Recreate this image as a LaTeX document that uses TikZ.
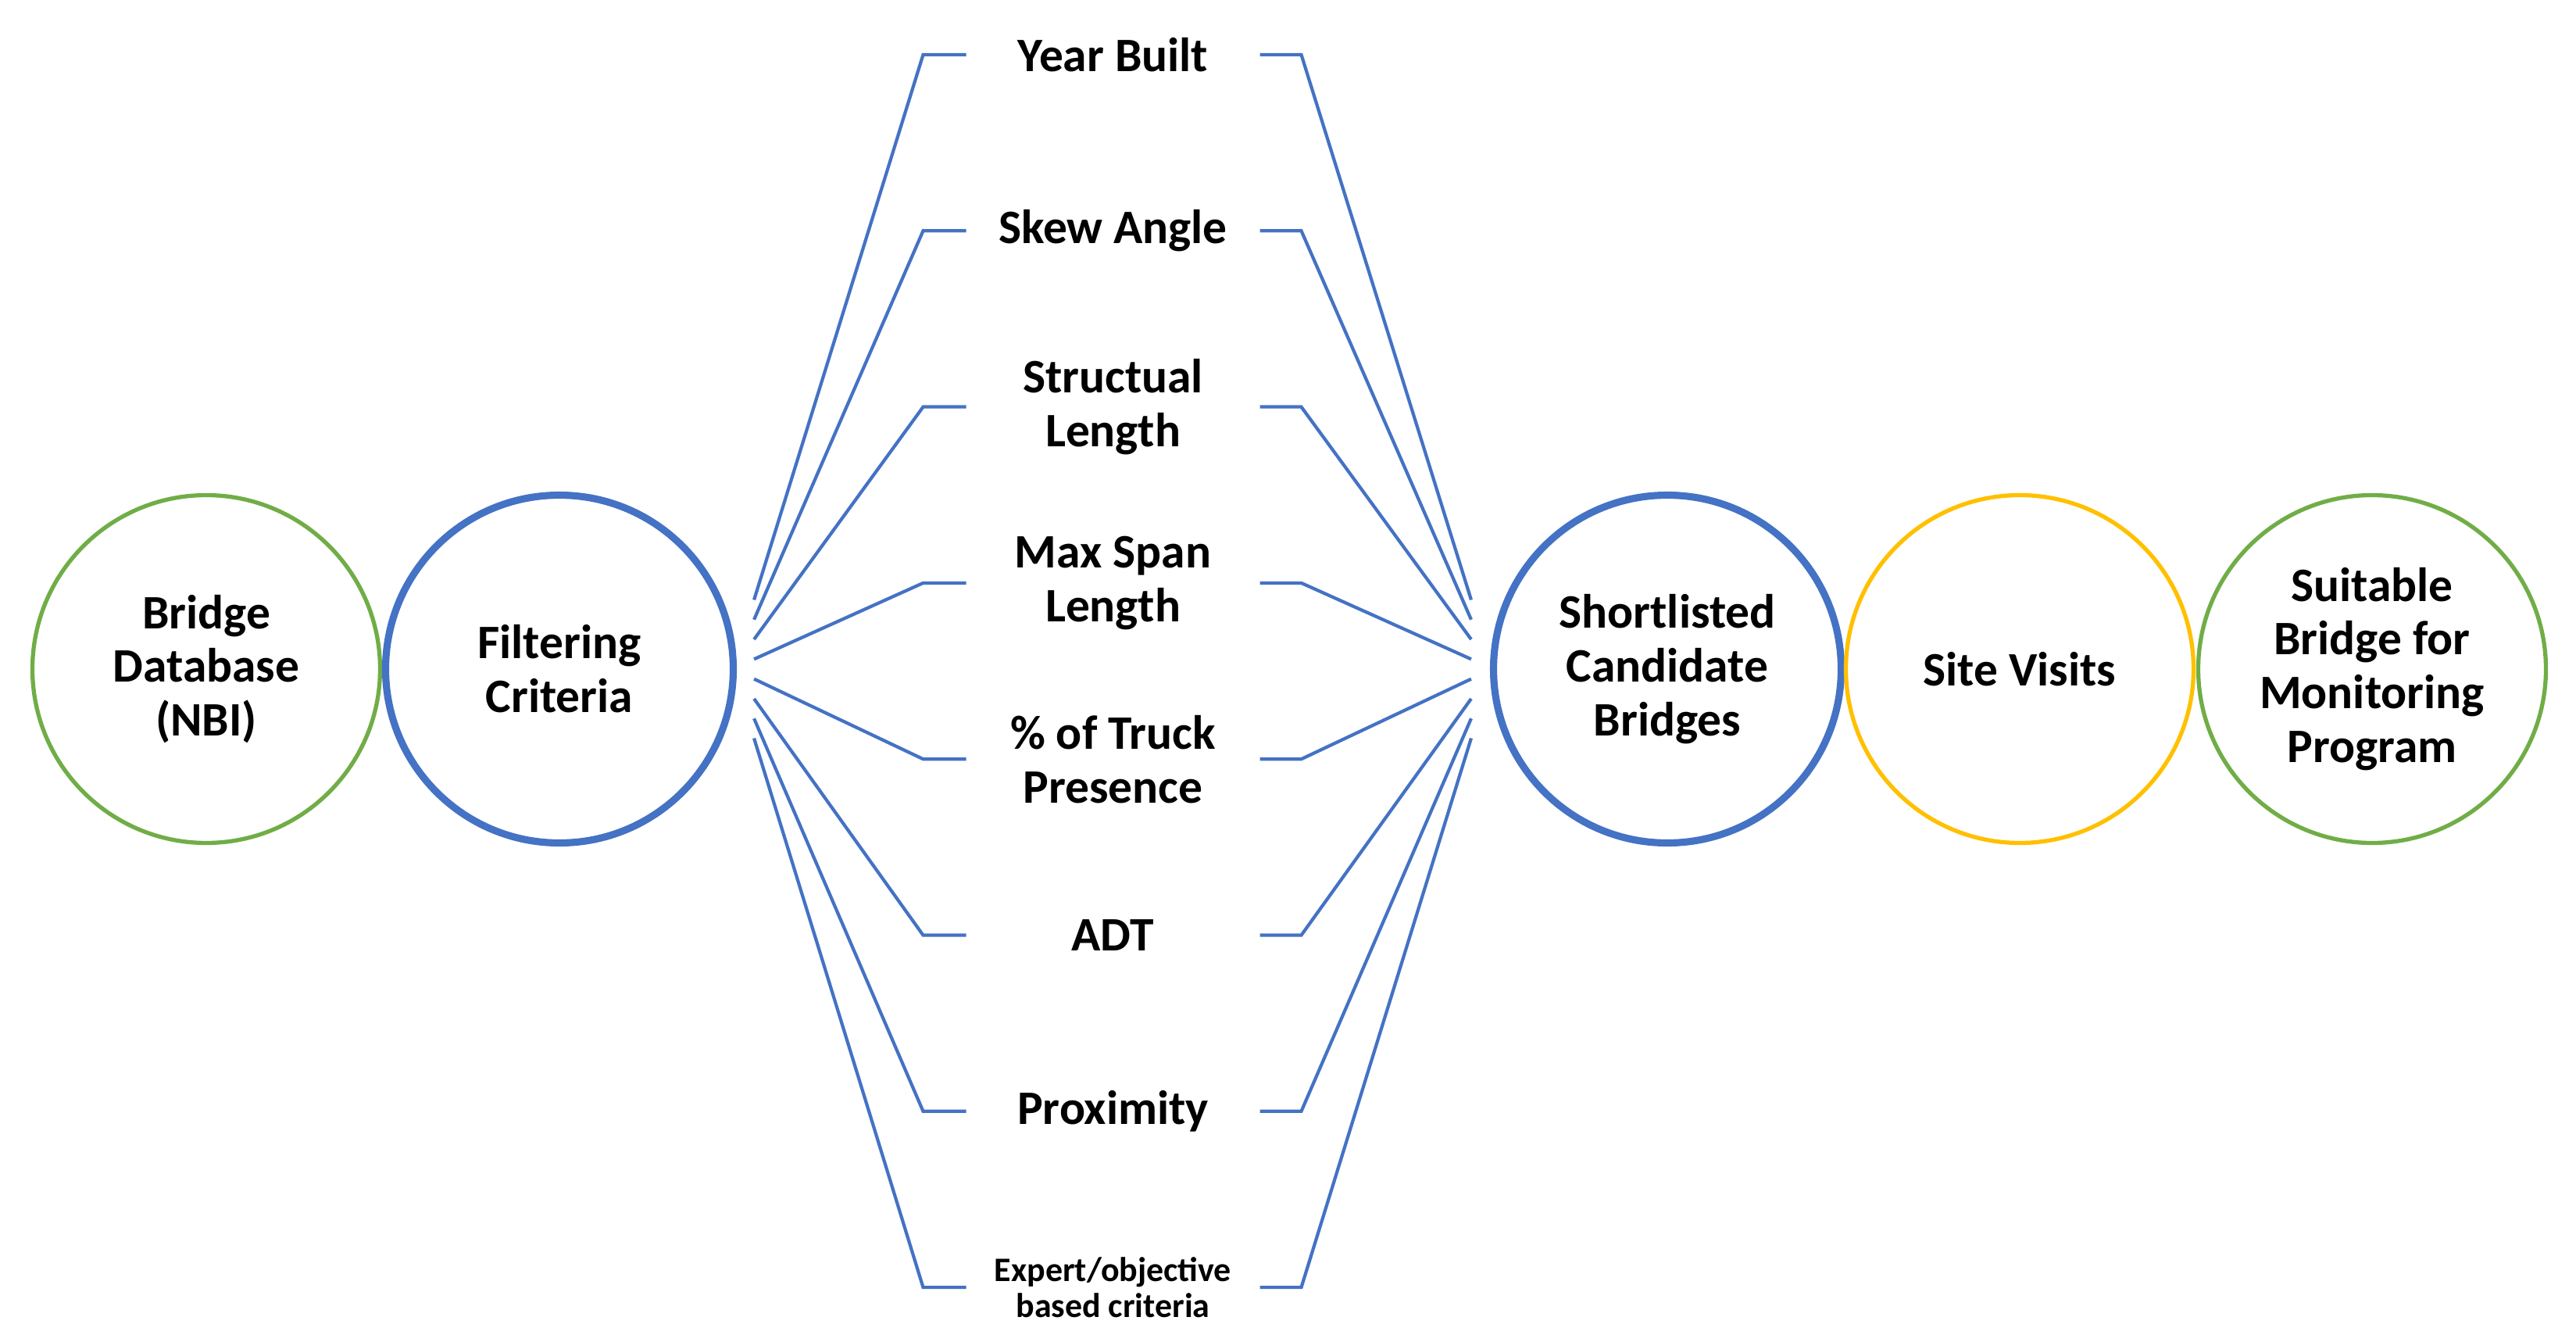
\documentclass[tikz,border=0pt]{standalone}
\usepackage{fontspec}
\setmainfont{Carlito}
\usepackage{xcolor}
\usepackage{tikz}
\usetikzlibrary{calc}

\definecolor{offblue}{HTML}{4472C4}
\definecolor{offgreen}{HTML}{70AD47}
\definecolor{offyellow}{HTML}{FFC000}

\begin{document}
\begin{tikzpicture}[
  font=\bfseries\fontsize{17.5}{19.6}\selectfont,
  stage/.style={circle, minimum size=4.45cm, inner sep=0pt, align=center},
  bluestage/.style={stage, draw=offblue, line width=2.6pt},
  greenstage/.style={stage, draw=offgreen, line width=1.5pt},
  yellowstage/.style={stage, draw=offyellow, line width=1.5pt},
  crit/.style={minimum width=3.76cm, inner sep=0pt, outer sep=0pt, align=center},
  smallcrit/.style={crit, font=\bfseries\fontsize{12.5}{13.2}\selectfont},
  fan/.style={draw=offblue, line width=1.2pt}
]
\useasboundingbox (0,0) rectangle (32.97,17.16);

% ==================== STAGES ====================
\node[greenstage]  (db)    at (2.64, 8.60)  {Bridge\\Database\\(NBI)};
\node[bluestage]   (filt)  at (7.16, 8.60)  {Filtering\\Criteria};
\node[bluestage]   (short) at (21.34, 8.60) {Shortlisted\\Candidate\\Bridges};
\node[yellowstage] (site)  at (25.85, 8.60) {Site Visits};
\node[greenstage]  (suit)  at (30.36, 8.60) {Suitable\\Bridge for\\Monitoring\\Program};

% ==================== CRITERIA ====================
\node[crit]      (cr1) at (14.245, 16.46)  {Year Built};
\node[crit]      (cr2) at (14.245, 14.207) {Skew Angle};
\node[crit]      (cr3) at (14.245, 11.954) {Structual\\Length};
\node[crit]      (cr4) at (14.245, 9.701)  {Max Span\\Length};
\node[crit]      (cr5) at (14.245, 7.448)  {\% of Truck\\Presence};
\node[crit]      (cr6) at (14.245, 5.195)  {ADT};
\node[crit]      (cr7) at (14.245, 2.942)  {Proximity};
\node[smallcrit] (cr8) at (14.245, 0.689)  {Expert/objective\\based criteria};

% ==================== FAN CONNECTORS ====================
\foreach \i in {1,...,8} {
  \coordinate (fl\i) at ($(filt.east)+(0.22,{(4.5-\i)*0.253})$);
  \coordinate (fr\i) at ($(short.west)+(-0.24,{(4.5-\i)*0.253})$);
  \draw[fan] (fl\i) -- ($(cr\i.west)+(-0.55,0)$) -- (cr\i.west);
  \draw[fan] (fr\i) -- ($(cr\i.east)+(0.53,0)$) -- (cr\i.east);
}

\end{tikzpicture}
\end{document}
